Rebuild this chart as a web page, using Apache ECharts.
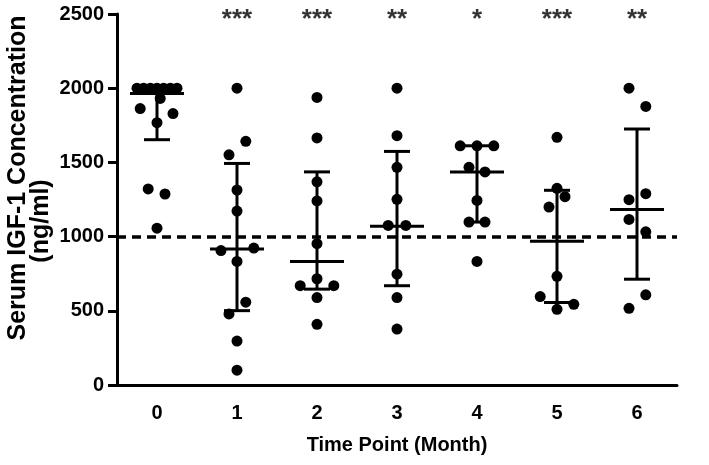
<!DOCTYPE html>
<html><head><meta charset="utf-8">
<script src="https://cdn.jsdelivr.net/npm/echarts@6/dist/echarts.min.js"></script>
<style>html,body{margin:0;padding:0;background:#fff}#c{width:709px;height:465px}</style>
</head><body><div id="c"></div>
<script>
// ---- data ----
const categories = ['0', '1', '2', '3', '4', '5', '6'];
const month0 = [2000, 2000, 2000, 2000, 2000, 2000, 2000, 1931, 1863, 1829, 1768, 1321, 1287, 1057];
const month1 = [2000, 1642, 1551, 1314, 1172, 923, 906, 833, 558, 479, 296, 100];
const month2 = [1938, 1665, 1369, 1240, 953, 716, 669, 669, 589, 409];
const month3 = [2000, 1680, 1467, 1251, 1075, 1075, 747, 589, 377];
const month4 = [1612, 1612, 1612, 1467, 1436, 1244, 1098, 1098, 833];
const month5 = [1669, 1325, 1269, 1199, 732, 596, 544, 510];
const month6 = [2000, 1877, 1289, 1249, 1116, 1032, 608, 517];
const medians = [1965, 917, 833, 1070, 1436, 969, 1183];
const lowerQuartiles = [1653, 501, 646, 669, 1098, 556, 713];
const upperQuartiles = [2000, 1493, 1436, 1574, 1612, 1312, 1725];
const significance = ['', '***', '***', '**', '*', '***', '**'];
const referenceLevel = 1000;

// horizontal spreading of overlapping dots (fraction of a category band)
const spread0 = [-0.25, -0.167, -0.083, 0, 0.083, 0.167, 0.25, 0.04, -0.21, 0.2, 0, -0.11, 0.1, 0];
const spread1 = [0, 0.11, -0.1, 0, 0, 0.21, -0.2, 0, 0.11, -0.1, 0, 0];
const spread2 = [0, 0, 0, 0, 0, 0, -0.21, 0.21, 0, 0];
const spread3 = [0, 0, 0, 0, -0.11, 0.11, 0, 0, 0];
const spread4 = [-0.21, 0, 0.21, -0.1, 0.1, 0, -0.1, 0.1, 0];
const spread5 = [0, 0, 0.1, -0.1, 0, -0.21, 0.21, 0];
const spread6 = [-0.1, 0.11, 0.11, -0.1, -0.1, 0.11, 0.11, -0.1];

const groups = [month0, month1, month2, month3, month4, month5, month6];
const spreads = [spread0, spread1, spread2, spread3, spread4, spread5, spread6];

const points = [];
groups.forEach((vals, i) => vals.forEach((v, j) => points.push([i + spreads[i][j], v])));
const bars = medians.map((m, i) => [i, m, lowerQuartiles[i], upperQuartiles[i]]);
const stars = significance.map((s, i) => ({ value: [i, 2500], label: { formatter: s } }));

const FONT = 'Liberation Sans, Arial, sans-serif';
const chart = echarts.init(document.getElementById('c'), null, { renderer: 'canvas' });
chart.setOption({
  animation: false,
  backgroundColor: '#fff',
  grid: { left: 117, right: 32, top: 14, bottom: 80, containLabel: false },
  xAxis: [{
    type: 'category', data: categories, boundaryGap: true,
    axisLine: { onZero: false, lineStyle: { color: '#000', width: 3 } },
    axisTick: { alignWithLabel: true, length: 9, lineStyle: { color: '#000', width: 3 } },
    axisLabel: { color: '#000', fontFamily: FONT, fontWeight: 'bold', fontSize: 20, margin: 18 },
    name: 'Time Point (Month)', nameLocation: 'middle', nameGap: 50,
    nameTextStyle: { color: '#000', fontFamily: FONT, fontWeight: 'bold', fontSize: 20 }
  }, {
    type: 'value', min: -0.5, max: 6.5, show: false
  }],
  yAxis: {
    type: 'value', min: 0, max: 2500, interval: 500,
    axisLine: { show: true, onZero: false, lineStyle: { color: '#000', width: 3 } },
    axisTick: { show: true, length: 9, lineStyle: { color: '#000', width: 3 } },
    splitLine: { show: false },
    axisLabel: { color: '#000', fontFamily: FONT, fontWeight: 'bold', fontSize: 20, margin: 13,
      formatter: v => String(v) }
  },
  graphic: [
    { type: 'text', x: 18, y: 178, rotation: Math.PI / 2,
      style: { text: 'Serum IGF-1 Concentration', fill: '#000', font: 'bold 25px ' + FONT, textAlign: 'center', textVerticalAlign: 'middle' } },
    { type: 'text', x: 41, y: 221, rotation: Math.PI / 2,
      style: { text: '(ng/ml)', fill: '#000', font: 'bold 25px ' + FONT, textAlign: 'center', textVerticalAlign: 'middle' } }
  ],
  series: [{
    type: 'scatter', xAxisIndex: 1, data: points, symbolSize: 11,
    itemStyle: { color: '#000', opacity: 1 }, z: 3,
    markLine: {
      silent: true, symbol: 'none', label: { show: false },
      lineStyle: { color: '#000', width: 3.5, type: [9, 6] },
      data: [{ yAxis: referenceLevel }]
    }
  }, {
    type: 'custom', xAxisIndex: 1, data: bars, z: 4,
    renderItem: function (params, api) {
      const x = api.value(0);
      const pm = api.coord([x, api.value(1)]);
      const pl = api.coord([x, api.value(2)]);
      const ph = api.coord([x, api.value(3)]);
      const st = { stroke: '#000', lineWidth: 3 };
      const cap = 13, med = 27;
      return { type: 'group', children: [
        { type: 'line', shape: { x1: pl[0], y1: pl[1], x2: ph[0], y2: ph[1] }, style: st },
        { type: 'line', shape: { x1: pl[0] - cap, y1: pl[1], x2: pl[0] + cap, y2: pl[1] }, style: st },
        { type: 'line', shape: { x1: ph[0] - cap, y1: ph[1], x2: ph[0] + cap, y2: ph[1] }, style: st },
        { type: 'line', shape: { x1: pm[0] - med, y1: pm[1], x2: pm[0] + med, y2: pm[1] }, style: st }
      ] };
    }
  }, {
    type: 'scatter', xAxisIndex: 1, data: stars, symbolSize: 0, z: 5,
    label: { show: true, position: 'inside', offset: [0, 6], color: '#000', fontFamily: FONT, fontWeight: 'bold', fontSize: 26 }
  }]
});
</script></body></html>
